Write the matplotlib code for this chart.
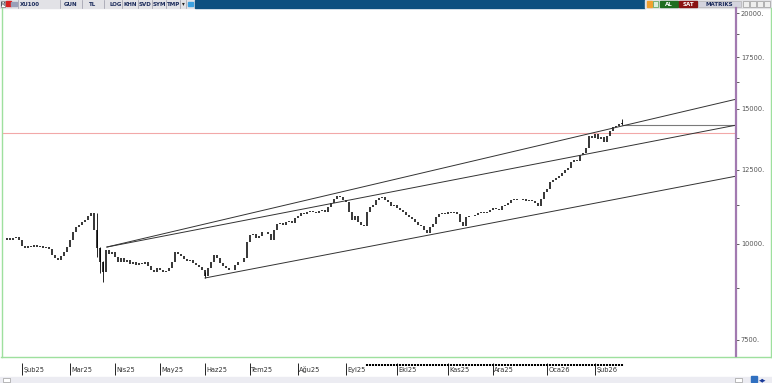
import numpy as np
import matplotlib
matplotlib.use("Agg")
import matplotlib.pyplot as plt
from matplotlib.patches import Rectangle

# XU100 daily closes (one bar per step)
closes = [10115, 10177, 10115, 10177, 10208, 10115, 9934, 9875, 9934, 9904,
          9964, 9904, 9934, 9875, 9904, 9845, 9670, 9583, 9526, 9641,
          9757, 9904, 10115, 10362, 10519, 10582, 10677, 10741, 10870, 10969,
          10424, 9875, 9469, 9189, 9816, 9699, 9757, 9612, 9469, 9583,
          9469, 9526, 9413, 9469, 9385, 9441, 9413, 9469, 9357, 9245,
          9189, 9301, 9245, 9189, 9217, 9301, 9469, 9757, 9699, 9641,
          9555, 9498, 9526, 9441, 9385, 9329, 9245, 9079, 9301, 9469,
          9670, 9583, 9441, 9357, 9301, 9245, 9245, 9385, 9469, 9469,
          9583, 10054, 10268, 10300, 10177, 10238, 10362, 10362, 10300, 10115,
          10424, 10614, 10645, 10582, 10677, 10709, 10645, 10805, 10870, 10969,
          10936, 11002, 11035, 11002, 10969, 11035, 11068, 11002, 11169, 11304,
          11441, 11545, 11510, 11406, 11338, 11002, 10741, 10870, 10677, 10582,
          10550, 11002, 11169, 11236, 11406, 11475, 11510, 11406, 11338, 11203,
          11236, 11135, 11068, 11002, 10903, 10838, 10773, 10677, 10582, 10550,
          10424, 10331, 10519, 10614, 10838, 10936, 10969, 10936, 11002, 10969,
          11002, 10936, 10677, 10550, 10838, 10870, 10870, 10903, 10969, 11002,
          10969, 11002, 11068, 11135, 11102, 11068, 11203, 11236, 11304, 11406,
          11441, 11406, 11406, 11441, 11372, 11406, 11372, 11304, 11203, 11441,
          11684, 11790, 12040, 12112, 12186, 12259, 12370, 12481, 12556, 12786,
          12862, 12824, 13057, 13136, 13334, 13823, 13740, 13908, 13699, 13782,
          13577, 13823, 14033, 14203, 14246, 14331, 14374]

# long wicks that stand out
wick_idx = [31, 32, 33, 67, 206]
wick_lo = [9600, 9150, 8917, 9025, 14300]
wick_hi = [10969, 9900, 9500, 9200, 14548]

month_pos = [6, 22, 37, 52, 67, 82, 98, 114, 131, 148, 163, 181, 197]
month_lbl = ["Şub25", "Mar25", "Nis25", "May25", "Haz25", "Tem25", "Ağu25",
             "Eyl25", "Eki25", "Kas25", "Ara25", "Oca26", "Şub26"]

yticks = [7500, 10000, 12500, 15000, 17500, 20000]
yminor = [8750, 11250, 13750, 16250, 18750]

# trend channel (bar index, value)
line_a = ([34.3, 244.3], [9904, 15448])
line_b = ([34.3, 244.3], [9904, 14289])
line_c = ([67.0, 244.3], [9025, 12259])
pink_level = 13950
last_level = 14289

W, H = 772, 383
fig = plt.figure(figsize=(W / 100, H / 100), dpi=100)
fig.patch.set_facecolor("white")

def px_box(x0, y0, x1, y1):
    return [x0 / W, 1 - y1 / H, (x1 - x0) / W, (y1 - y0) / H]

# window chrome in pixel coordinates
ov = fig.add_axes([0, 0, 1, 1], zorder=0)
ov.set_xlim(0, W)
ov.set_ylim(H, 0)
ov.axis("off")

ov.add_patch(Rectangle((0, 0), 195, 7.5, color="#e2e2e6"))
ov.add_patch(Rectangle((195, 0), 450, 7.5, color="#0d5080"))
ov.add_patch(Rectangle((645, 0), 127, 7.5, color="#e2e2e6"))
for x in [18, 60, 82, 104, 122, 138, 152, 166, 180, 186]:
    ov.plot([x, x], [0, 7.5], color="#9a9aa8", lw=0.5)
ov.add_patch(Rectangle((0.5, 0.5), 4, 6.5, fc="white", ec="#555", lw=0.4))
ov.text(2.5, 4, "M", fontsize=3.5, ha="center", va="center", color="#112")
ov.add_patch(Rectangle((6, 1), 5, 5, color="#d82020"))
ov.add_patch(Rectangle((11, 1.5), 6, 4, color="#9aa0b8"))
tb = [("XU100", 20), ("GUN", 64), ("TL", 89), ("LOG", 110), ("KHN", 124),
      ("SVD", 139), ("SYM", 153), ("TMP", 167)]
for t, x in tb:
    ov.text(x, 4, t, fontsize=4, va="center", color="#1a2a5a", fontweight="bold")
ov.text(182, 4, "▾", fontsize=4, va="center", color="#222")
ov.add_patch(Rectangle((188, 1.5), 5, 4, color="#3aa0e0"))
ov.add_patch(Rectangle((647, 1), 4.5, 5.5, color="#f0a030"))
ov.add_patch(Rectangle((653, 1), 5, 5.5, fc="#ddeedd", ec="#2a8a2a", lw=0.4))
ov.add_patch(Rectangle((660, 0.5), 18, 6.5, color="#1f6e1f"))
ov.text(669, 4, "AL", fontsize=4, ha="center", va="center", color="white", fontweight="bold")
ov.add_patch(Rectangle((679, 0.5), 18, 6.5, color="#8a1212"))
ov.text(688, 4, "SAT", fontsize=4, ha="center", va="center", color="white", fontweight="bold")
ov.add_patch(Rectangle((698, 0.5), 43, 6.5, fc="#d4d4de", ec="#aaa", lw=0.4))
ov.text(719, 4, "MATRIKS", fontsize=4, ha="center", va="center", color="#1a2a5a", fontweight="bold")
for x in [743, 750, 757, 764]:
    ov.add_patch(Rectangle((x, 1), 6, 5.5, fc="#eeeeee", ec="#888", lw=0.4))

# green frame
ov.plot([1.5, 1.5], [8, 356.5], color="#9ee09e", lw=1)
ov.plot([770.5, 770.5], [8, 356.5], color="#9ee09e", lw=1)
ov.plot([1, 771], [356.5, 356.5], color="#9ee09e", lw=1)

# bottom scroll strip
ov.add_patch(Rectangle((0, 377), W, 6, color="#ececf2"))
ov.add_patch(Rectangle((3, 377.5), 7, 4, fc="white", ec="#888", lw=0.4))
ov.add_patch(Rectangle((735, 377.5), 7, 4, fc="white", ec="#888", lw=0.4))
ov.add_patch(Rectangle((751, 376), 6, 6, color="#3070c0"))
ov.text(763, 379.5, "◀▶", fontsize=3.5, ha="center", va="center", color="#1a3a9a")

# price panel
x0, x1 = 3, 736
ax = fig.add_axes(px_box(x0, 8, x1, 356), zorder=2)
ax.set_facecolor("none")
ax.set_yscale("log")
ax.set_ylim(7140, 20303)
ax.set_xlim((x0 - 4) / 3, (x1 - 4) / 3)

n = len(closes)
idx = np.arange(n)
opens = [closes[0]] + closes[:-1]
lo = np.minimum(opens, closes)
hi = np.maximum(opens, closes)
ax.vlines(idx, lo, hi, color="black", lw=1.1)
ax.vlines(wick_idx, wick_lo, wick_hi, color="black", lw=0.6)

ax.axhline(pink_level, color="#f2a8a8", lw=0.8, zorder=1)
ax.plot([n - 1, (x1 - 4) / 3], [last_level, last_level], color="#7a7a7a", lw=0.8)
for xs, ys in [line_a, line_b, line_c]:
    ax.plot(xs, ys, color="#333333", lw=0.7)

for s in ["top", "left", "bottom"]:
    ax.spines[s].set_visible(False)
ax.spines["right"].set_color("#a27ab0")
ax.spines["right"].set_linewidth(1.6)
ax.yaxis.tick_right()
ax.set_yticks(yticks)
ax.set_yticklabels([f"{v}." for v in yticks])
ax.set_yticks(yminor, minor=True)
ax.yaxis.set_minor_formatter(plt.NullFormatter())
ax.tick_params(axis="y", which="both", length=2.5, width=0.6, color="#444",
               labelsize=4.8, labelcolor="#555", pad=1)
ax.set_xticks([])

# date band
dx = fig.add_axes(px_box(x0, 357, x1, 377), zorder=2)
dx.set_xlim(ax.get_xlim())
dx.set_ylim(0, 1)
dx.axis("off")
dense = [i for i in idx if 4 + 3 * i >= 367]
dx.vlines(dense, 0.55, 0.65, color="black", lw=1.5)
dx.vlines(month_pos, 0.1, 0.7, color="black", lw=0.6)
for p, t in zip(month_pos, month_lbl):
    dx.text(p + 0.4, 0.37, t, fontsize=4.8, va="center", color="#333")

fig.savefig("out.png", dpi=100)
